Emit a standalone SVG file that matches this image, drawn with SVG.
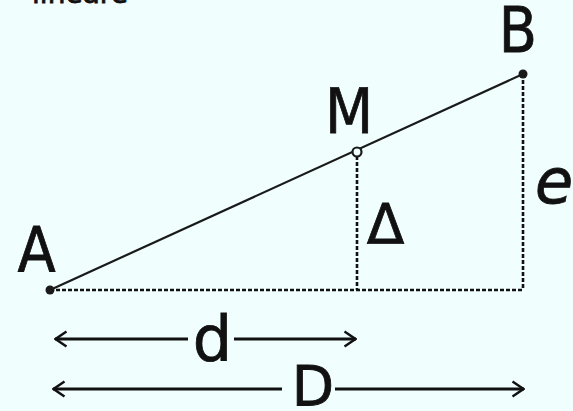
<svg xmlns="http://www.w3.org/2000/svg" width="573" height="411" viewBox="0 0 573 411">
<defs>
<style>
.lbl{font-family:"DejaVu Sans","Liberation Sans",sans-serif;font-size:62px;fill:#111;stroke:#111;stroke-width:0.8;text-anchor:middle}
.ln{stroke:#1a1a1a;stroke-width:2.2;fill:none}
.dash{stroke:#111;stroke-width:2.6;stroke-dasharray:4 2;fill:none}
.arr{stroke:#111;stroke-width:3;fill:none}
</style>
<marker id="ah" viewBox="0 0 14 18" refX="13" refY="9" markerWidth="14" markerHeight="18" markerUnits="userSpaceOnUse" orient="auto-start-reverse">
<path d="M1.5,1.5 L12.5,9 L1.5,16.5" fill="none" stroke="#111" stroke-width="2.4"/>
</marker>
</defs>
<rect width="573" height="411" fill="#f0fefe"/>
<text x="80" y="3" class="lbl" style="font-size:28px">lineare</text>
<g id="connectors">
<line class="ln" x1="50" y1="290" x2="523" y2="74"/>
<line class="dash" x1="50" y1="290" x2="523" y2="290"/>
<line class="dash" x1="357" y1="156" x2="357" y2="290"/>
<line class="dash" x1="523" y1="74" x2="523" y2="290"/>
<line class="arr" x1="55" y1="339" x2="188" y2="339" marker-start="url(#ah)"/>
<line class="arr" x1="234" y1="339" x2="356" y2="339" marker-end="url(#ah)"/>
<line class="arr" x1="53" y1="389" x2="282" y2="389" marker-start="url(#ah)"/>
<line class="arr" x1="335" y1="389" x2="524" y2="389" marker-end="url(#ah)"/>
</g>
<g id="A">
<circle cx="50" cy="290" r="4.5" fill="#1a1a1a"/>
<text class="lbl" transform="translate(36.5,272) scale(0.9,1)">A</text>
</g>
<g id="B">
<circle cx="523" cy="74" r="4.5" fill="#1a1a1a"/>
<text class="lbl" transform="translate(518,52) scale(0.9,1)">B</text>
</g>
<g id="M">
<circle cx="357" cy="152" r="4.5" fill="#f0fefe" stroke="#1a1a1a" stroke-width="2.2"/>
<text class="lbl" transform="translate(349,133) scale(0.9,1)">M</text>
</g>
<g id="delta">
<text class="lbl" style="font-size:55px" transform="translate(385.5,243)">Δ</text>
</g>
<g id="e">
<text class="lbl" style="font-style:italic" transform="translate(554,203)">e</text>
</g>
<g id="d">
<text class="lbl" transform="translate(212.5,360)">d</text>
</g>
<g id="D">
<text class="lbl" style="font-size:55px" transform="translate(313,405)">D</text>
</g>
</svg>
